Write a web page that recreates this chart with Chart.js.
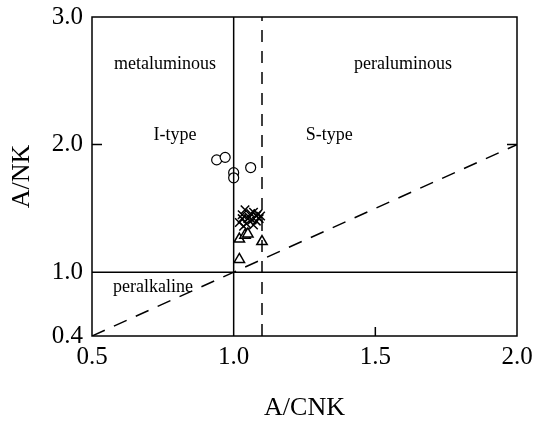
<!DOCTYPE html>
<html>
<head>
<meta charset="utf-8">
<script src="https://cdn.jsdelivr.net/npm/chart.js@4"></script>
<style>
  html,body{margin:0;padding:0;background:#fff;}
  #wrap{width:539px;height:421px;}
</style>
</head>
<body>
<div id="wrap"><canvas id="c" width="539" height="421"></canvas></div>
<script>
// A/CNK vs A/NK discrimination diagram
const circleX = [0.94, 0.97, 1.00, 1.00, 1.06];
const circleY = [1.88, 1.90, 1.78, 1.74, 1.82];
const triX = [1.02, 1.04, 1.05, 1.10, 1.02];
const triY = [1.26, 1.29, 1.30, 1.24, 1.10];
const crossX = [1.02, 1.03, 1.04, 1.05, 1.06, 1.065, 1.07, 1.08, 1.085, 1.09, 1.035, 1.03, 1.07, 1.08, 1.045, 1.055, 1.095];
const crossY = [1.39, 1.45, 1.49, 1.42, 1.46, 1.41, 1.47, 1.44, 1.455, 1.42, 1.36, 1.42, 1.37, 1.40, 1.38, 1.43, 1.44];
const yTicks = [0.5, 1.0, 2.0, 3.0];
const yTickLabels = ['0.4', '1.0', '2.0', '3.0'];
const xTicks = [0.5, 1.0, 1.5, 2.0];
const xTickLabels = ['0.5', '1.0', '1.5', '2.0'];

const FONT = "'Liberation Serif', 'Times New Roman', serif";
const pts = (xs, ys) => xs.map((x, i) => ({x, y: ys[i]}));
const seg = (a, b) => [{x: a[0], y: a[1]}, {x: b[0], y: b[1]}];

const lineDs = (data, dash) => ({
  type: 'line', data, borderColor: '#000', borderWidth: 1.5,
  borderDash: dash || [], pointRadius: 0, fill: false, showLine: true
});

// frame, inward ticks and field labels
const decor = {
  id: 'decor',
  afterDatasetsDraw(chart) {
    const {ctx, chartArea: a, scales: {x, y}} = chart;
    ctx.save();
    ctx.strokeStyle = '#000';
    ctx.lineWidth = 1.5;
    ctx.strokeRect(a.left, a.top, a.right - a.left, a.bottom - a.top);
    ctx.beginPath();
    const y2 = y.getPixelForValue(2.0);
    ctx.moveTo(a.left, y2); ctx.lineTo(a.left + 10, y2);
    ctx.moveTo(a.right, y2); ctx.lineTo(a.right - 10, y2);
    const x15 = x.getPixelForValue(1.5);
    ctx.moveTo(x15, a.bottom); ctx.lineTo(x15, a.bottom - 9);
    ctx.stroke();

    ctx.fillStyle = '#000';
    ctx.font = '18px ' + FONT;
    ctx.textAlign = 'center';
    ctx.textBaseline = 'middle';
    [['metaluminous', 0.758, 2.63], ['peraluminous', 1.598, 2.63],
     ['I-type', 0.793, 2.075], ['S-type', 1.337, 2.075],
     ['peralkaline', 0.715, 0.882]].forEach(([t, vx, vy]) => {
      ctx.fillText(t, x.getPixelForValue(vx), y.getPixelForValue(vy));
    });
    ctx.restore();
  }
};

new Chart(document.getElementById('c'), {
  type: 'scatter',
  data: {
    datasets: [
      lineDs(seg([1.0, 0.5], [1.0, 3.0])),
      lineDs(seg([1.1, 0.5], [1.1, 3.0]), [12, 9]),
      lineDs(seg([0.5, 1.0], [2.0, 1.0])),
      lineDs(seg([0.5, 0.5], [2.0, 2.0]), [14, 10]),
      {data: pts(circleX, circleY), pointStyle: 'circle', pointRadius: 5,
       backgroundColor: '#fff', borderColor: '#000', borderWidth: 1.2},
      {data: pts(triX, triY), pointStyle: 'triangle', pointRadius: 6,
       backgroundColor: '#fff', borderColor: '#000', borderWidth: 1.5},
      {data: pts(crossX, crossY), pointStyle: 'crossRot', pointRadius: 6,
       borderColor: '#000', borderWidth: 1.5}
    ]
  },
  options: {
    responsive: false,
    animation: false,
    layout: {padding: {top: 17, right: 22, left: 0, bottom: 0}},
    plugins: {legend: {display: false}, tooltip: {enabled: false}},
    scales: {
      x: {
        type: 'linear', min: 0.5, max: 2.0,
        afterBuildTicks: s => { s.ticks = xTicks.map(v => ({value: v})); },
        afterFit: s => { s.height = 85; s.paddingLeft = 0; s.paddingRight = 0; },
        grid: {display: false, drawTicks: false},
        border: {display: false},
        ticks: {color: '#000', padding: 6, maxRotation: 0, font: {family: FONT, size: 25},
                callback: (v, i) => xTickLabels[i]},
        title: {display: true, text: 'A/CNK', color: '#000', padding: {top: 0, bottom: -3},
                font: {family: FONT, size: 26}}
      },
      y: {
        type: 'linear', min: 0.5, max: 3.0,
        afterBuildTicks: s => { s.ticks = yTicks.map(v => ({value: v})); },
        afterFit: s => { s.width = 92; s.paddingTop = 0; s.paddingBottom = 0; },
        grid: {display: false, drawTicks: false},
        border: {display: false},
        ticks: {color: '#000', padding: 9, font: {family: FONT, size: 25},
                callback: (v, i) => yTickLabels[i]},
        title: {display: true, text: 'A/NK', color: '#000', padding: {top: 7, bottom: 0},
                font: {family: FONT, size: 26}}
      }
    }
  },
  plugins: [decor]
});
</script>
</body>
</html>
